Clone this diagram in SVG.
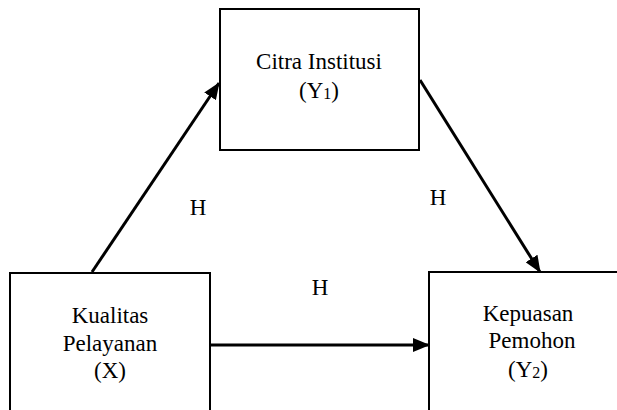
<svg xmlns="http://www.w3.org/2000/svg" width="617" height="410" viewBox="0 0 617 410">
<style>
.box{fill:#fff;stroke:#000;stroke-width:2}
.t{font-family:"Liberation Serif","Times New Roman",serif;font-size:23px;fill:#000;text-anchor:middle}
.sub{font-size:16px}
.edge{stroke:#000;stroke-width:3;fill:none}
</style>
<defs>
<marker id="ah" markerUnits="userSpaceOnUse" markerWidth="18" markerHeight="14" refX="16" refY="7" orient="auto">
<path d="M0,0 L17,7 L0,14 z" fill="#000"/>
</marker>
</defs>
<rect width="617" height="410" fill="#fff"/>
<g id="citra">
<rect class="box" x="220" y="9" width="199" height="141"/>
<text class="t" x="319" y="69">Citra Institusi</text>
<text class="t" x="319" y="98">(Y<tspan class="sub" dy="1">1</tspan><tspan dy="-1">)</tspan></text>
</g>
<g id="kualitas">
<rect class="box" x="10" y="273" width="200" height="150"/>
<text class="t" x="110" y="323">Kualitas</text>
<text class="t" x="110" y="351">Pelayanan</text>
<text class="t" x="110" y="378">(X)</text>
</g>
<g id="kepuasan">
<rect class="box" x="429" y="272" width="200" height="150"/>
<text class="t" x="528" y="321">Kepuasan</text>
<text class="t" x="532" y="348">Pemohon</text>
<text class="t" x="528" y="377">(Y<tspan class="sub" dy="1">2</tspan><tspan dy="-1">)</tspan></text>
</g>
<g id="connectors">
<line class="edge" x1="92" y1="272" x2="219" y2="83" marker-end="url(#ah)"/>
<line class="edge" x1="420" y1="80" x2="540" y2="272" marker-end="url(#ah)"/>
<line class="edge" x1="210" y1="345" x2="429" y2="345" marker-end="url(#ah)"/>
</g>
<g id="labels">
<text class="t" x="198" y="215">H</text>
<text class="t" x="438" y="205">H</text>
<text class="t" x="320" y="295">H</text>
</g>
</svg>
